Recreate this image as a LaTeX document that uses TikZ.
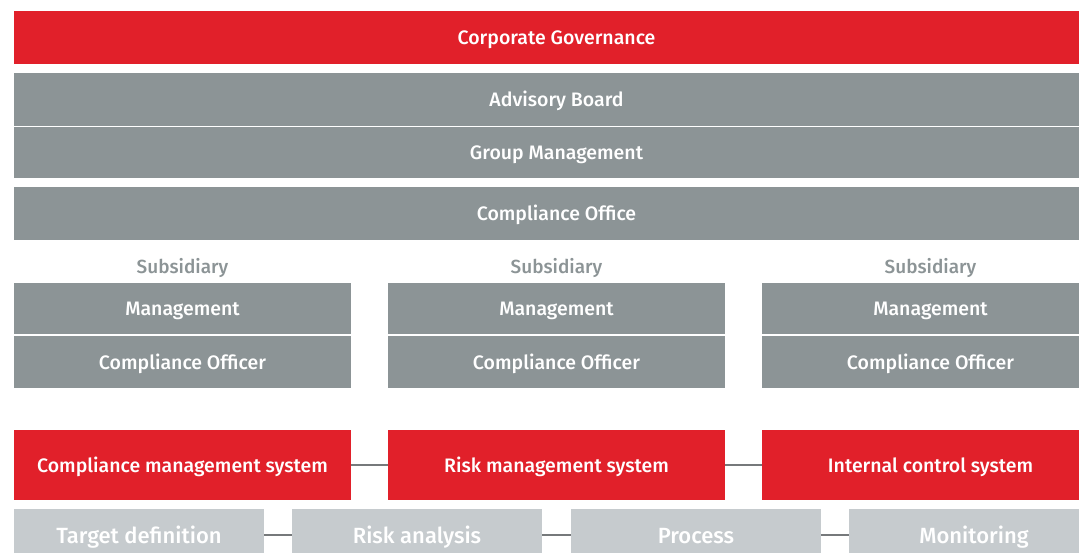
\documentclass[tikz,border=0pt]{standalone}
\usepackage{fontspec}
\setmainfont{Fira Sans Medium}
\definecolor{cgred}{HTML}{E1202A}
\definecolor{cggray}{HTML}{8C9496}
\definecolor{cglight}{HTML}{C6CBCE}
\definecolor{cgline}{HTML}{76797B}

\begin{document}
\begin{tikzpicture}[x=1pt,y=-1pt,
    box/.style={anchor=north west, inner sep=0pt, outer sep=0pt, text=white,
      text height=14pt, text depth=0pt, font=\fontsize{19.5}{23}\selectfont},
    redbox/.style={box, fill=cgred},
    graybox/.style={box, fill=cggray},
    lightbox/.style={box, fill=cglight, text height=16pt, font=\fontsize{22}{26}\selectfont},
    sublabel/.style={text=cggray, text height=14pt, text depth=0pt, font=\fontsize{19}{22}\selectfont},
    link/.style={cgline, line width=1.2pt}]
    \clip (0,0) rectangle (1079,552);
    \fill[white] (0,0) rectangle (1079,552);

    % Group level
    \node[redbox, minimum width=1085pt, minimum height=53pt] (gov) at (14,11) {Corporate Governance};
    \node[graybox, minimum width=1085pt, minimum height=52.5pt] (board) at (14,73) {Advisory Board};
    \node[graybox, minimum width=1085pt, minimum height=51pt] (groupmgmt) at (14,127) {Group Management};
    \node[graybox, minimum width=1085pt, minimum height=53pt] (office) at (14,187) {Compliance Office};

    % Subsidiaries
    \foreach \x/\n in {14/a, 388/b, 762/c} {
        \node[sublabel] (sub\n) at (\x+168.5,266) {Subsidiary};
        \node[graybox, minimum width=337pt, minimum height=51pt] (mgmt\n) at (\x,283) {Management};
        \node[graybox, minimum width=337pt, minimum height=52pt] (officer\n) at (\x,336) {Compliance Officer};
    }

    % Systems
    \node[redbox, minimum width=337pt, minimum height=70pt] (cms) at (14,430) {Compliance management system};
    \node[redbox, minimum width=337pt, minimum height=70pt] (rms) at (388,430) {Risk management system};
    \node[redbox, minimum width=337pt, minimum height=70pt] (ics) at (762,430) {Internal control system};
    \draw[link] (cms) -- (rms);
    \draw[link] (rms) -- (ics);

    % Steps
    \node[lightbox, minimum width=250pt, minimum height=52pt] (target) at (14,509) {Target definition};
    \node[lightbox, minimum width=250pt, minimum height=52pt] (riskan) at (292,509) {Risk analysis};
    \node[lightbox, minimum width=250pt, minimum height=52pt] (process) at (571,509) {Process};
    \node[lightbox, minimum width=250pt, minimum height=52pt] (monitor) at (849,509) {Monitoring};
    \draw[link] (target) -- (riskan);
    \draw[link] (riskan) -- (process);
    \draw[link] (process) -- (monitor);
\end{tikzpicture}
\end{document}
